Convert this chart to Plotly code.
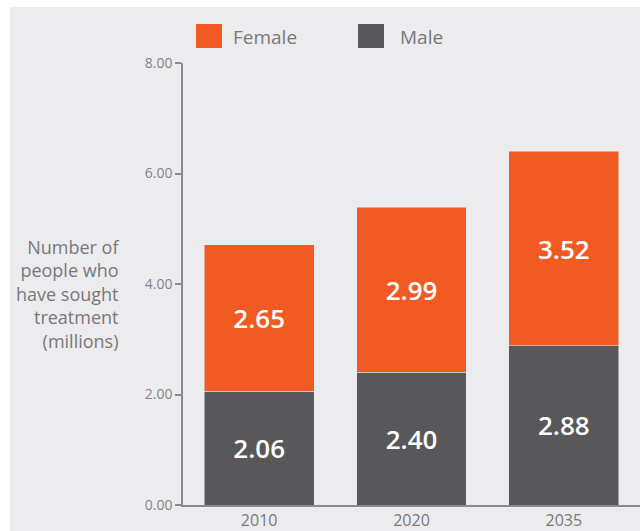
import plotly.graph_objects as go

years = ["2010", "2020", "2035"]
male = [2.06, 2.40, 2.88]
female = [2.65, 2.99, 3.52]
series_names = ["Female", "Male"]
y_ticks = [0, 2, 4, 6, 8]
y_title = "Number of<br>people who<br>have sought<br>treatment<br>(millions)"

ORANGE = "#f15a22"
DARK = "#58585a"
BG = "#ececee"
TXT = "#78787a"
FONT = "Open Sans"

W, H = 640, 531
L, R, T, B = 183, 0, 63, 26
PW, PH = W - L - R, H - T - B

def px(x):
    return (x - L) / PW

def py(y):
    return 1 - (y - T) / PH

fig = go.Figure()
fig.add_trace(go.Bar(
    x=years, y=male, name=series_names[1], marker_color=DARK,
    texttemplate="%{y:.2f}", textposition="inside", insidetextanchor="middle",
    textfont=dict(color="white", size=26, family=FONT, weight=600),
    constraintext="none", showlegend=False,
))
fig.add_trace(go.Bar(
    x=years, y=female, name=series_names[0], marker_color=ORANGE,
    texttemplate="%{y:.2f}", textposition="inside", insidetextanchor="middle",
    textfont=dict(color="white", size=26, family=FONT, weight=600),
    constraintext="none", showlegend=False,
))

shapes = [
    dict(type="rect", xref="paper", yref="paper", layer="below",
         x0=px(10), x1=1.0, y0=py(531), y1=py(7),
         fillcolor=BG, line=dict(width=0)),
]
annotations = [
    dict(text=y_title, xref="paper", yref="paper", x=px(121), y=py(294),
         xanchor="right", yanchor="middle", align="right", showarrow=False,
         font=dict(family=FONT, size=18, color=TXT)),
]
# legend swatches
for name, color, sx, tx in [(series_names[0], ORANGE, 196, 231), (series_names[1], DARK, 358, 398)]:
    shapes.append(dict(type="rect", xref="paper", yref="paper",
                       x0=px(sx), x1=px(sx + 26), y0=py(48), y1=py(24),
                       fillcolor=color, line=dict(width=0)))
    annotations.append(dict(text=name, xref="paper", yref="paper", x=px(tx), y=py(37),
                            xanchor="left", yanchor="middle", showarrow=False,
                            font=dict(family=FONT, size=19, color=TXT)))

fig.update_layout(
    width=W, height=H,
    margin=dict(l=L, r=R, t=T, b=B, pad=0),
    barmode="stack", bargap=0.28,
    paper_bgcolor="white", plot_bgcolor="rgba(0,0,0,0)",
    font=dict(family=FONT, color=TXT),
    shapes=shapes, annotations=annotations,
    showlegend=False,
    xaxis=dict(showline=True, linecolor="#8a8a8c", linewidth=1.5, ticks="",
               tickfont=dict(size=16, color=TXT), showgrid=False, zeroline=False,
               fixedrange=True),
    yaxis=dict(range=[0, 8], tickvals=y_ticks, tickformat=".2f",
               showline=True, linecolor="#8a8a8c", linewidth=1.5,
               ticks="outside", ticklen=6, tickcolor="#8a8a8c", tickwidth=1.5,
               tickfont=dict(size=14, color="#858587"), showgrid=False, zeroline=False,
               fixedrange=True),
)

fig.write_html("out.html", config={"displayModeBar": False},
               post_script="document.body.style.margin='0';document.body.style.overflow='hidden';")
